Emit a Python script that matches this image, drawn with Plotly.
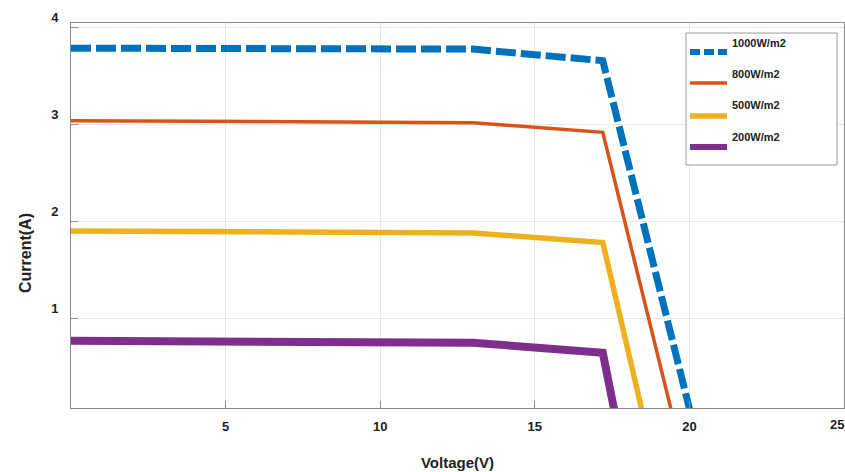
import plotly.graph_objects as go

# Data
v_1000 = [0, 13.0, 17.2, 20.05]
i_1000 = [3.79, 3.78, 3.66, 0.0]
v_800 = [0, 13.0, 17.2, 19.45]
i_800 = [3.04, 3.02, 2.92, 0.0]
v_500 = [0, 13.0, 17.2, 18.5]
i_500 = [1.90, 1.88, 1.78, 0.0]
v_200 = [0, 13.0, 17.2, 17.6]
i_200 = [0.765, 0.745, 0.64, 0.0]

series_names = ["1000W/m2", "800W/m2", "500W/m2", "200W/m2"]
colors = ["#0072BD", "#D95319", "#EDB120", "#7E2F8E"]
widths = [7, 3.5, 5.5, 8]
dashes = ["20px,5px", "solid", "solid", "solid"]
xs = [v_1000, v_800, v_500, v_200]
ys = [i_1000, i_800, i_500, i_200]

x_ticks = [5, 10, 15, 20, 25]
y_ticks = [1, 2, 3, 4]

FONT = "Liberation Sans, Arial, sans-serif"
TXT = "#222222"

fig = go.Figure()
for x, y, c, w, d, n in zip(xs, ys, colors, widths, dashes, series_names):
    fig.add_trace(go.Scatter(x=x, y=y, mode="lines", name=n,
                             line=dict(color=c, width=w, dash=d),
                             showlegend=False))

# Custom legend box (text above sample line, like the reference)
W, H = 773, 385
def px(xp):
    return (xp - 71) / W
def py(yp):
    return (408 - yp) / H

fig.add_shape(type="rect", xref="paper", yref="paper",
              x0=px(686), x1=px(837), y0=py(165), y1=py(33),
              line=dict(color="#9a9a9a", width=1), fillcolor="white", layer="above")
line_y = [52, 83, 116, 147]
text_y = [43, 74, 105, 137]
for n, c, w, d, ly, ty in zip(series_names, colors, widths, dashes, line_y, text_y):
    fig.add_shape(type="line", xref="paper", yref="paper",
                  x0=px(690), x1=px(727), y0=py(ly), y1=py(ly),
                  line=dict(color=c, width=min(w, 6), dash=("10px,4px" if d != "solid" else "solid")),
                  layer="above")
    fig.add_annotation(xref="paper", yref="paper", x=px(730), y=py(ty),
                       text="<b>%s</b>" % n, showarrow=False, xanchor="left", yanchor="middle",
                       font=dict(family=FONT, size=11, color=TXT))

# last x tick label, at the page edge as in the reference
fig.add_annotation(xref="x", yref="paper", x=x_ticks[-1], y=0, yanchor="top", xanchor="center",
                   yshift=-7, xshift=-7, text="<b>%d</b>" % x_ticks[-1], showarrow=False,
                   font=dict(family=FONT, size=13, color=TXT))

# y axis title (placed below centre, as in the reference)
fig.add_annotation(xref="paper", yref="paper", x=px(25), y=py(253), textangle=-90,
                   xanchor="center", yanchor="middle", showarrow=False,
                   text="<b>Current(A)</b>", font=dict(family=FONT, size=16, color=TXT))

axis_common = dict(showgrid=True, gridcolor="#e6e6e6", gridwidth=1,
                   showline=True, linecolor="#8a8a8a", linewidth=1, mirror=True,
                   ticks="inside", ticklen=7, tickcolor="#8a8a8a", zeroline=False,
                   tickfont=dict(family=FONT, size=13, color=TXT))

fig.update_xaxes(range=[0, 25.001], tickvals=x_ticks, ticktext=["<b>%d</b>" % t for t in x_ticks],
                 ticklabelstandoff=6,
                 title=dict(text="<b>Voltage(V)</b>", font=dict(family=FONT, size=15, color=TXT),
                            standoff=24),
                 **axis_common)
fig.update_yaxes(range=[0.07, 4.05], tickvals=y_ticks, ticktext=["<b>%d</b>" % t for t in y_ticks],
                 ticklabelshift=-10, ticklabelstandoff=9,
                 **axis_common)

fig.update_layout(width=845, height=472, margin=dict(l=71, r=1, t=23, b=64, autoexpand=False),
                  plot_bgcolor="white", paper_bgcolor="white")

fig.write_html("out.html")
